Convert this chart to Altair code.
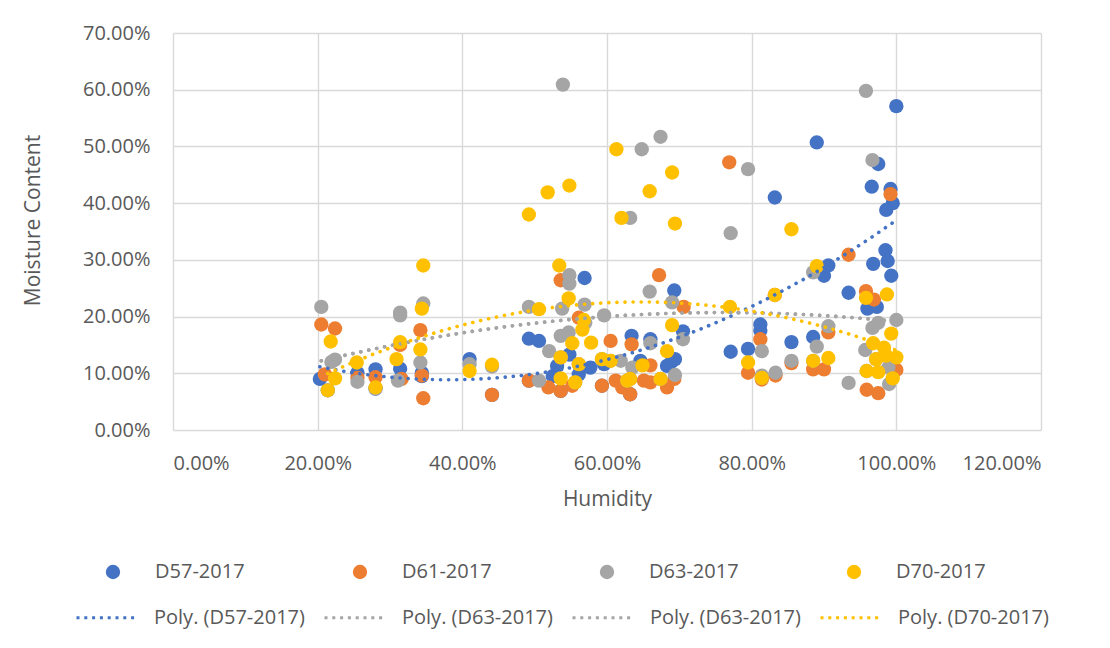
import altair as alt
import pandas as pd

SERIES = ["D57-2017", "D61-2017", "D63-2017", "D70-2017"]
COLORS = ["#4472C4", "#ED7D31", "#A5A5A5", "#FFC000"]

# Humidity (%) and moisture content (%) per series
# (a few values sit hidden under points of later series)
H57 = [20.3, 25.5, 28.0, 31.4, 34.4, 34.4, 41.0, 49.2, 50.6, 52.5, 53.1, 54.8, 56.1, 56.9, 57.7, 59.6,
       63.4, 64.6, 66.0, 68.3, 68.9, 69.4, 69.3, 70.5, 77.1, 79.5, 81.2, 81.2, 83.2, 85.5, 88.5, 89.0,
       90.0, 90.6, 93.4, 96.0, 97.3, 96.8, 98.5, 98.8, 99.3, 96.6, 97.5, 99.2, 99.5, 98.6, 100.0,
       21.4, 28.0, 44.1, 49.2, 53.6, 59.3, 63.2]
M57 = [9.0, 10.1, 10.7, 10.8, 10.1, 9.5, 12.5, 16.1, 15.7, 9.5, 11.3, 13.3, 9.8, 26.8, 11.0, 11.6,
       16.6, 12.2, 16.0, 11.3, 12.0, 12.5, 24.6, 17.4, 13.8, 14.3, 18.6, 17.5, 41.0, 15.5, 16.4, 50.7,
       27.2, 29.0, 24.2, 21.4, 21.7, 29.3, 31.7, 29.8, 27.2, 42.9, 46.9, 42.5, 40.0, 38.8, 57.1,
       7.0, 7.3, 6.2, 8.7, 6.9, 7.8, 6.3]

H61 = [20.5, 22.4, 21.0, 25.5, 28.0, 31.4, 31.6, 34.2, 34.4, 34.6, 44.1, 49.2, 51.9, 53.6, 53.6, 55.2,
       56.1, 60.5, 59.3, 61.2, 62.1, 63.2, 63.4, 65.1, 66.0, 66.0, 67.2, 68.3, 69.3, 70.6, 76.9, 79.5,
       81.2, 81.4, 83.3, 83.2, 85.5, 88.5, 90.0, 90.6, 93.4, 95.8, 96.9, 99.2, 100.0, 95.9, 97.5]
M61 = [18.6, 17.9, 9.8, 9.2, 9.3, 15.0, 9.0, 17.6, 9.6, 5.6, 6.2, 8.7, 7.5, 6.9, 26.4, 7.8,
       19.8, 15.7, 7.8, 8.7, 7.5, 6.3, 15.1, 8.7, 8.4, 11.4, 27.3, 7.5, 9.0, 21.7, 47.2, 10.1,
       16.0, 8.9, 9.6, 23.8, 11.8, 10.7, 10.7, 17.2, 30.9, 24.5, 23.0, 41.6, 10.6, 7.1, 6.5]

H63 = [20.5, 22.4, 21.9, 25.5, 28.0, 31.4, 31.4, 31.1, 34.6, 34.2, 41.0, 44.1, 49.2, 50.6, 52.0, 53.6,
       53.8, 54.7, 53.9, 54.8, 54.8, 56.9, 57.0, 59.6, 61.9, 63.5, 63.2, 64.8, 65.9, 66.0, 67.4, 69.0,
       69.4, 70.5, 77.1, 79.5, 81.4, 81.4, 83.3, 85.5, 88.5, 89.0, 90.6, 93.4, 95.8, 96.7, 100.0, 97.5,
       96.7, 95.7, 98.9, 99.0,
       53.6, 56.1, 60.5, 63.2, 55.6, 67.4, 81.4, 88.5, 97.2, 95.9, 62.8, 59.3]
M63 = [21.7, 12.4, 12.0, 8.5, 7.3, 20.7, 20.2, 8.7, 22.3, 11.9, 11.6, 11.2, 21.7, 8.7, 13.9, 16.6,
       21.4, 17.2, 60.9, 25.8, 27.3, 22.1, 18.9, 20.2, 12.2, 11.0, 37.4, 49.5, 24.4, 15.3, 51.7, 22.5,
       9.7, 16.0, 34.7, 46.0, 13.9, 9.6, 10.1, 12.2, 27.8, 14.7, 18.3, 8.3, 59.8, 47.6, 19.4, 18.9,
       18.0, 14.1, 11.0, 8.1,
       12.8, 11.6, 12.2, 9.0, 8.4, 9.0, 9.2, 12.2, 12.5, 10.4, 8.7, 12.5]

H70 = [21.8, 22.4, 21.4, 25.4, 28.0, 31.4, 30.9, 34.4, 34.2, 34.6, 41.0, 44.1, 49.2, 51.8, 54.8, 50.6,
       54.7, 53.4, 55.2, 57.8, 56.6, 56.8, 53.6, 56.1, 59.3, 60.5, 53.6, 55.6, 62.8, 63.2, 61.3, 62.0,
       65.9, 69.0, 69.4, 64.9, 67.4, 68.3, 69.0, 77.0, 79.5, 81.4, 83.2, 85.5, 88.5, 89.0, 90.6, 95.8,
       98.7, 99.3, 96.8, 98.3, 97.2, 100.0, 98.6, 95.9, 97.5, 99.5]
M70 = [15.6, 9.1, 7.0, 11.9, 7.5, 15.5, 12.5, 21.4, 14.2, 29.0, 10.4, 11.5, 38.0, 41.9, 43.1, 21.3,
       23.2, 29.0, 15.3, 15.4, 17.7, 19.4, 12.8, 11.6, 12.5, 12.2, 9.1, 8.4, 8.7, 9.0, 49.5, 37.4,
       42.1, 45.4, 36.4, 11.4, 9.0, 13.9, 18.5, 21.7, 11.9, 9.2, 23.8, 35.4, 12.2, 28.9, 12.7, 23.3,
       23.9, 17.0, 15.3, 14.5, 12.5, 12.8, 13.1, 10.4, 10.2, 9.1]

TREND_LABELS = ["Poly. (D57-2017)", "Poly. (D63-2017)", "Poly. (D63-2017) ", "Poly. (D70-2017)"]
TREND_SOURCE = ["D57-2017", "D63-2017", "D63-2017", "D70-2017"]
TREND_COLORS = ["#4472C4", "#A5A5A5", "#A5A5A5", "#FFC000"]

X_TICKS = [0, 0.2, 0.4, 0.6, 0.8, 1.0, 1.2]
Y_TICKS = [0, 0.1, 0.2, 0.3, 0.4, 0.5, 0.6, 0.7]

rows = []
for s, hs, ms in zip(SERIES, [H57, H61, H63, H70], [M57, M61, M63, M70]):
    for h, m in zip(hs, ms):
        rows.append({"series": s, "H": h / 100.0, "M": m / 100.0})
df = pd.DataFrame(rows)

FONT = "Open Sans"
TXT = "#595959"

x_enc = alt.X("H:Q",
              scale=alt.Scale(domain=[0, 1.2], nice=False, zero=False),
              axis=alt.Axis(values=X_TICKS, format=".2%", title="Humidity",
                            labelPadding=23, titleY=69, titleBaseline="middle"))
y_enc = alt.Y("M:Q",
              scale=alt.Scale(domain=[0, 0.7], nice=False, zero=False),
              axis=alt.Axis(values=Y_TICKS, format=".2%", title="Moisture Content",
                            labelPadding=23, titleX=-140, titleY=187,
                            titleBaseline="middle", titleAlign="center"))

base = alt.Chart(df)

points = base.mark_circle(size=205, opacity=1, strokeWidth=0).encode(
    x=x_enc,
    y=y_enc,
    fill=alt.Fill("series:N",
                  scale=alt.Scale(domain=SERIES, range=COLORS),
                  legend=alt.Legend(title=None, orient="none", direction="horizontal",
                                    columns=4, legendX=-70, legendY=529,
                                    symbolType="circle", symbolSize=205,
                                    labelOffset=32, columnPadding=105,
                                    labelFont=FONT, labelFontSize=20, labelColor=TXT,
                                    padding=0)),
)

trend_legend = alt.Legend(title=None, orient="none", direction="horizontal",
                          columns=4, legendX=-98, legendY=552,
                          symbolType="stroke", symbolSize=3844,
                          symbolDash=[3, 4.8], symbolStrokeWidth=3,
                          labelOffset=14, columnPadding=13,
                          labelFont=FONT, labelFontSize=20, labelColor=TXT,
                          labelLimit=400, padding=0)
trend_scale = alt.Scale(domain=TREND_LABELS, range=TREND_COLORS)

lines = []
for lab, src in zip(TREND_LABELS, TREND_SOURCE):
    lyr = base.transform_filter(alt.datum.series == src).transform_regression(
        "H", "M", method="poly", order=2
    ).transform_calculate(
        trend=alt.expr.toString(lab)
    ).mark_line(strokeDash=[0.1, 8], strokeCap="round", strokeWidth=3.6).encode(
        x=alt.X("H:Q"),
        y=alt.Y("M:Q"),
        stroke=alt.Stroke("trend:N", scale=trend_scale, legend=trend_legend),
    )
    lines.append(lyr)

chart = alt.layer(points, *lines).properties(
    width=868, height=397,
    padding={"left": 165, "top": 25, "right": 61, "bottom": 210},
    autosize=alt.AutoSizeParams(type="none"),
    background="white",
).configure_view(stroke=None).configure_axis(
    grid=True, gridColor="#D9D9D9", gridWidth=1.4,
    domain=False, ticks=False,
    labelFont=FONT, labelFontSize=20, labelColor=TXT,
    titleFont=FONT, titleFontSize=21, titleFontWeight="normal", titleColor=TXT,
)

chart.save("out.html", embed_options={"renderer": "svg", "actions": False})
